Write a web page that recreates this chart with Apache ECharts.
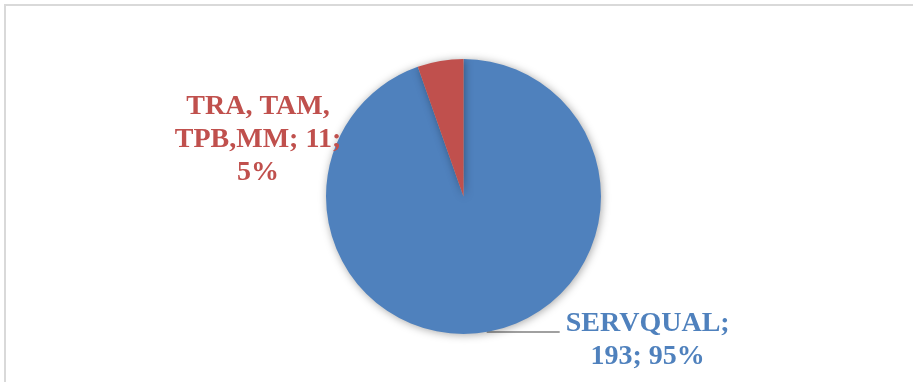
<!DOCTYPE html>
<html>
<head>
<meta charset="utf-8">
<script src="https://cdn.jsdelivr.net/npm/echarts@6/dist/echarts.min.js"></script>
<style>
html,body{margin:0;padding:0;background:#fff;}
#c{width:913px;height:382px;}
</style>
</head>
<body>
<div id="c"></div>
<script>
const categories = ['SERVQUAL', 'TRA, TAM, TPB,MM'];
const values = [193, 11];
const percents = ['95%', '5%'];
const labelLines = [['SERVQUAL;', '193; 95%'], ['TRA, TAM,', 'TPB,MM; 11;', '5%']];
const colors = ['#4F81BD', '#C0504D'];

const chart = echarts.init(document.getElementById('c'), null, {renderer: 'canvas'});
const FONT = '"Liberation Serif", "Times New Roman", serif';

const data = categories.map((name, i) => ({
  name: name,
  value: values[i],
  itemStyle: {color: colors[i]},
  label: {
    color: colors[i],
    formatter: labelLines[i].map(t => '{a|' + t + '}').join('\n'),
    rich: {a: {fontFamily: FONT, fontWeight: 'bold', fontSize: 28, lineHeight: 33, color: colors[i], width: 172, align: 'center'}},
    padding: i === 0 ? [17, 0, 0, 0] : 0
  },
  labelLine: {show: i === 0}
}));

chart.setOption({
  animation: false,
  graphic: [{
    type: 'rect',
    shape: {x: 5, y: 5, width: 1200, height: 1200},
    style: {fill: null, stroke: '#D9D9D9', lineWidth: 2},
    silent: true
  }],
  series: [{
    type: 'pie',
    center: [463.5, 196.5],
    radius: 137.5,
    startAngle: 90,
    clockwise: true,
    data: data,
    itemStyle: {shadowBlur: 9, shadowColor: 'rgba(0,0,0,0.35)', shadowOffsetX: 1, shadowOffsetY: 1, borderWidth: 0},
    label: {show: true, position: 'outside', distanceToLabelLine: 2},
    labelLine: {show: true, length: 0, length2: 73, smooth: false, lineStyle: {color: '#A0A0A0', width: 2}},
    labelLayout: function (p) {
      if (p.dataIndex === 1) {
        return {x: 258, y: 140, align: 'center', verticalAlign: 'middle'};
      }
      return {};
    },
    emphasis: {disabled: true}
  }]
});
</script>
</body>
</html>
